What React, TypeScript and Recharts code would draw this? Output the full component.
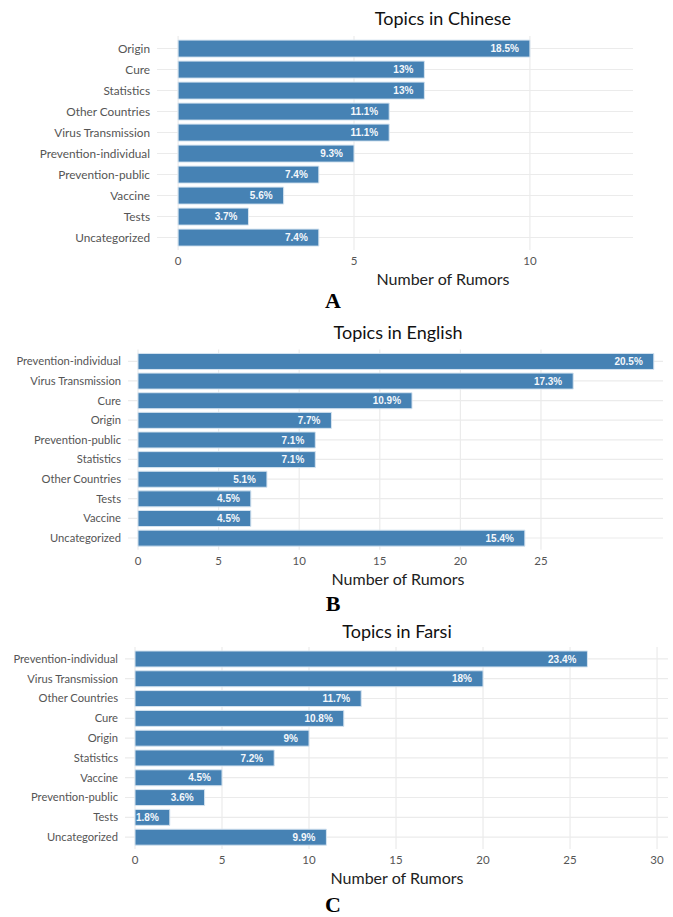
import { Bar, BarChart, CartesianGrid, LabelList, XAxis, YAxis } from "recharts";

// counts, top to bottom
const chineseTopics = [
  "Origin",
  "Cure",
  "Statistics",
  "Other Countries",
  "Virus Transmission",
  "Prevention-individual",
  "Prevention-public",
  "Vaccine",
  "Tests",
  "Uncategorized",
];
const chineseCounts = [10, 7, 7, 6, 6, 5, 4, 3, 2, 4];
const chinesePct = ["18.5%", "13%", "13%", "11.1%", "11.1%", "9.3%", "7.4%", "5.6%", "3.7%", "7.4%"];

const englishTopics = [
  "Prevention-individual",
  "Virus Transmission",
  "Cure",
  "Origin",
  "Prevention-public",
  "Statistics",
  "Other Countries",
  "Tests",
  "Vaccine",
  "Uncategorized",
];
const englishCounts = [32, 27, 17, 12, 11, 11, 8, 7, 7, 24];
const englishPct = ["20.5%", "17.3%", "10.9%", "7.7%", "7.1%", "7.1%", "5.1%", "4.5%", "4.5%", "15.4%"];

const farsiTopics = [
  "Prevention-individual",
  "Virus Transmission",
  "Other Countries",
  "Cure",
  "Origin",
  "Statistics",
  "Vaccine",
  "Prevention-public",
  "Tests",
  "Uncategorized",
];
const farsiCounts = [26, 20, 13, 12, 10, 8, 5, 4, 2, 11];
const farsiPct = ["23.4%", "18%", "11.7%", "10.8%", "9%", "7.2%", "4.5%", "3.6%", "1.8%", "9.9%"];

const chineseTicks = [0, 5, 10];
const englishTicks = [0, 5, 10, 15, 20, 25];
const farsiTicks = [0, 5, 10, 15, 20, 25, 30];

const FONT = "Lato, 'Open Sans', sans-serif";

type PanelProps = {
  top: number;
  title: string;
  letter: string;
  topics: string[];
  counts: number[];
  pct: string[];
  ticks: number[];
  domain: [number, number];
  plotLeft: number;
  plotRight: number;
  plotTop: number;
  plotHeight: number;
  titleX: number;
  titleY: number;
  axisTitleY: number;
  letterY: number;
  tickFont: number;
};

function Panel(p: PanelProps) {
  const data = p.topics.map((topic, i) => ({ topic, count: p.counts[i], pct: p.pct[i] }));
  const height = p.plotTop - p.top + p.plotHeight + 24;

  return (
    <>
      <div
        style={{
          position: "absolute",
          left: p.titleX,
          top: p.titleY,
          transform: "translate(-50%, -50%)",
          fontFamily: FONT,
          fontSize: 18,
          color: "#111",
          whiteSpace: "nowrap",
        }}
      >
        {p.title}
      </div>
      <div style={{ position: "absolute", left: 0, top: p.top }}>
        <BarChart
          width={673}
          height={height}
          data={data}
          layout="vertical"
          margin={{ left: 0, right: 673 - p.plotRight, top: p.plotTop - p.top, bottom: 0 }}
          barCategoryGap="10%"
        >
          <CartesianGrid stroke="#ebebeb" strokeWidth={1.2} syncWithTicks />
          <XAxis
            type="number"
            domain={p.domain}
            ticks={p.ticks}
            allowDataOverflow
            axisLine={false}
            tickLine={false}
            tickSize={0}
            tickMargin={7}
            height={24}
            tick={{ fill: "#555", fontSize: 11.5, fontFamily: FONT }}
          />
          <YAxis
            type="category"
            dataKey="topic"
            width={p.plotLeft}
            interval={0}
            axisLine={false}
            tickLine={false}
            tickSize={0}
            tickMargin={7}
            padding={{ top: 2, bottom: 2 }}
            tick={{ fill: "#555", fontSize: p.tickFont, fontFamily: FONT }}
          />
          <Bar dataKey="count" fill="#4682b4" stroke="#d6e4f0" strokeWidth={1} isAnimationActive={false}>
            <LabelList
              dataKey="pct"
              position="insideRight"
              offset={11}
              fill="#f4f7fb"
              fontSize={10}
              fontWeight="bold"
              fontFamily="'Liberation Sans', Arial, sans-serif"
            />
          </Bar>
        </BarChart>
      </div>
      <div
        style={{
          position: "absolute",
          left: p.titleX,
          top: p.axisTitleY,
          transform: "translate(-50%, -50%)",
          fontFamily: FONT,
          fontSize: 16,
          color: "#222",
          whiteSpace: "nowrap",
        }}
      >
        Number of Rumors
      </div>
      <div
        style={{
          position: "absolute",
          left: 333,
          top: p.letterY,
          transform: "translate(-50%, -50%)",
          fontFamily: "'Liberation Serif', 'Times New Roman', serif",
          fontWeight: "bold",
          fontSize: 22,
          color: "#000",
        }}
      >
        {p.letter}
      </div>
    </>
  );
}

export default function App() {
  return (
    <div
      style={{
        position: "absolute",
        left: 0,
        top: 0,
        width: 673,
        height: 917,
        background: "#fff",
        overflow: "hidden",
      }}
    >
      <Panel
        top={0}
        title="Topics in Chinese"
        letter="A"
        topics={chineseTopics}
        counts={chineseCounts}
        pct={chinesePct}
        ticks={chineseTicks}
        domain={[-0.6, 12.93]}
        plotLeft={157}
        plotRight={633}
        plotTop={36}
        plotHeight={214}
        titleX={443}
        titleY={18}
        axisTitleY={278}
        letterY={301}
        tickFont={11.8}
      />
      <Panel
        top={300}
        title="Topics in English"
        letter="B"
        topics={englishTopics}
        counts={englishCounts}
        pct={englishPct}
        ticks={englishTicks}
        domain={[-0.62, 32.57]}
        plotLeft={128}
        plotRight={663}
        plotTop={349.5}
        plotHeight={200.3}
        titleX={398}
        titleY={332}
        axisTitleY={578}
        letterY={604}
        tickFont={11.2}
      />
      <Panel
        top={600}
        title="Topics in Farsi"
        letter="C"
        topics={farsiTopics}
        counts={farsiCounts}
        pct={farsiPct}
        ticks={farsiTicks}
        domain={[-0.575, 30.63]}
        plotLeft={125}
        plotRight={668}
        plotTop={647}
        plotHeight={202}
        titleX={397}
        titleY={631}
        axisTitleY={877}
        letterY={905}
        tickFont={11.2}
      />
    </div>
  );
}
